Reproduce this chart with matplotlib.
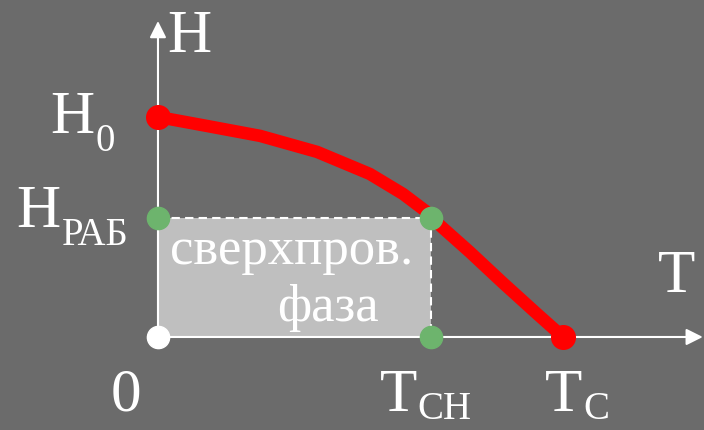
import matplotlib
matplotlib.use("Agg")
import matplotlib.pyplot as plt
from matplotlib.patches import Rectangle, FancyArrowPatch

# critical field curve H(T), normalised: Tc = 1, H0 = 1
curve_t = [0.0, 0.121, 0.252, 0.393, 0.523, 0.605, 0.664, 0.676, 0.770, 0.852, 0.936, 1.0]
curve_h = [1.0, 0.959, 0.914, 0.841, 0.741, 0.650, 0.568, 0.540, 0.386, 0.245, 0.105, 0.0]

h_work = 0.54   # H_РАБ
t_sc = 0.674    # T_CH
t_c = 1.0
h_0 = 1.0

BG = "#6b6b6b"
plt.rcParams["font.family"] = ["Liberation Serif", "DejaVu Serif"]

fig = plt.figure(figsize=(7.04, 4.31), dpi=100, facecolor=BG)
ax = fig.add_axes([0, 0, 1, 1])
ax.set_facecolor(BG)
ax.set_xlim(-0.390, 1.348)
ax.set_ylim(-0.4227, 1.536)
ax.axis("off")

# superconducting region
ax.add_patch(Rectangle((0, 0), t_sc, h_work, facecolor="#bfbfbf", edgecolor="none", zorder=1))
ax.plot([0, t_sc, t_sc], [h_work, h_work, 0], color="white", lw=1.5, ls=(0, (4, 2.5)), zorder=2)

# axes with arrows
ax.add_patch(FancyArrowPatch((0, 0), (1.345, 0), arrowstyle="-|>,head_length=10,head_width=5",
                             color="white", lw=1.5, zorder=3, shrinkA=0, shrinkB=0))
ax.add_patch(FancyArrowPatch((0, 0), (0, 1.436), arrowstyle="-|>,head_length=10,head_width=5",
                             color="white", lw=1.5, zorder=3, shrinkA=0, shrinkB=0))

# curve
ax.plot(curve_t, curve_h, color="#ff0000", lw=9, solid_capstyle="round",
        solid_joinstyle="round", zorder=4)
ax.plot([0, t_c], [h_0, 0], "o", color="#ff0000", ms=17, zorder=5)
ax.plot([0, t_sc, t_sc], [h_work, h_work, 0], "o", color="#6db46d", ms=16, zorder=5)
ax.plot([0], [0], "o", color="white", ms=16, zorder=5)

big = 44
small = 28
txt = dict(color="white", zorder=6)

ax.text(0.022, 1.3, "H", fontsize=big, ha="left", va="baseline", **txt)
ax.text(-0.265, 0.93, "H", fontsize=big, ha="left", va="baseline", **txt)
ax.text(-0.155, 0.85, "0", fontsize=small, ha="left", va="baseline", **txt)
ax.text(-0.35, 0.505, "H", fontsize=big, ha="left", va="baseline", **txt)
ax.text(-0.237, 0.423, "РАБ", fontsize=small, ha="left", va="baseline", **txt)
ax.text(1.235, 0.21, "T", fontsize=big, ha="left", va="baseline", **txt)
ax.text(-0.118, -0.33, "0", fontsize=big, ha="left", va="baseline", **txt)
ax.text(0.548, -0.33, "T", fontsize=big, ha="left", va="baseline", **txt)
ax.text(0.64, -0.37, "CH", fontsize=small, ha="left", va="baseline", **txt)
ax.text(0.955, -0.33, "T", fontsize=big, ha="left", va="baseline", **txt)
ax.text(1.05, -0.37, "C", fontsize=small, ha="left", va="baseline", **txt)

ax.text(0.03, 0.335, "сверхпров.", fontsize=38, ha="left", va="baseline", **txt)
ax.text(0.295, 0.075, "фаза", fontsize=38, ha="left", va="baseline", **txt)

fig.savefig("out.png", dpi=100, facecolor=BG)
